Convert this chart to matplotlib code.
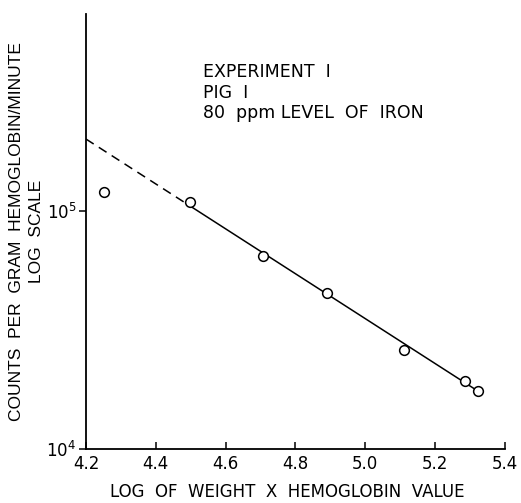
import numpy as np
import matplotlib
matplotlib.use("Agg")
import matplotlib.pyplot as plt
from matplotlib.ticker import NullLocator, FixedLocator

plt.rcParams['font.family'] = ['DejaVu Sans']

# Observed counts
log_wh = [4.252, 4.498, 4.707, 4.891, 5.111, 5.286, 5.323]
counts = [1.20e5, 1.09e5, 6.47e4, 4.52e4, 2.61e4, 1.93e4, 1.75e4]

# Fitted line (log10 counts vs. log weight x hemoglobin)
fit_x_dashed = [4.2, 4.5]
fit_x_solid = [4.5, 5.323]
fit_intercept_at_42 = 5.303
fit_slope = -0.943

xticks = [4.2, 4.4, 4.6, 4.8, 5.0, 5.2, 5.4]
xtick_labels = ["4.2", "4.4", "4.6", "4.8", "5.0", "5.2", "5.4"]


def fit(xs):
    xs = np.asarray(xs)
    return 10 ** (fit_intercept_at_42 + fit_slope * (xs - 4.2))


fig = plt.figure(figsize=(5.21, 5.03), dpi=100)
ax = fig.add_axes([0.165, 0.107, 0.804, 0.865])

ax.set_yscale('log')
ax.set_xlim(4.2, 5.4)
ax.set_ylim(1e4, 10 ** 5.828)

ax.plot(fit_x_dashed, fit(fit_x_dashed), color='black', lw=1.1, ls=(0, (6, 4)))
ax.plot(fit_x_solid, fit(fit_x_solid), color='black', lw=1.1)
ax.plot(log_wh, counts, 'o', mfc='white', mec='black', mew=1.1, ms=7, zorder=3)

for s in ('top', 'right'):
    ax.spines[s].set_visible(False)
for s in ('left', 'bottom'):
    ax.spines[s].set_linewidth(1.3)

ax.xaxis.set_major_locator(FixedLocator(xticks))
ax.set_xticklabels(xtick_labels)
ax.tick_params(axis='x', direction='in', length=5, width=1.1, labelsize=12, pad=4)
ax.yaxis.set_major_locator(FixedLocator([1e4, 1e5]))
ax.yaxis.set_minor_locator(NullLocator())
ax.set_yticklabels([r'$\mathdefault{10^{4}}$', r'$\mathdefault{10^{5}}$'])
ax.tick_params(axis='y', direction='out', length=5, width=1.1, labelsize=12, pad=2)

ax.set_xlabel("LOG  OF  WEIGHT  X  HEMOGLOBIN  VALUE", fontsize=12)
ax.xaxis.set_label_coords(0.48, -0.078)
ax.set_ylabel("COUNTS  PER  GRAM  HEMOGLOBIN/MINUTE\nLOG  SCALE", fontsize=12.5,
              family=['Liberation Sans'], linespacing=1.45)
ax.yaxis.set_label_coords(-0.10, 0.5)

ax.text(0.279, 0.888, "EXPERIMENT  I\nPIG  I\n80  ppm LEVEL  OF  IRON",
        transform=ax.transAxes, fontsize=12.5, va='top', ha='left',
        linespacing=1.2)

fig.savefig("out.png", dpi=100)
